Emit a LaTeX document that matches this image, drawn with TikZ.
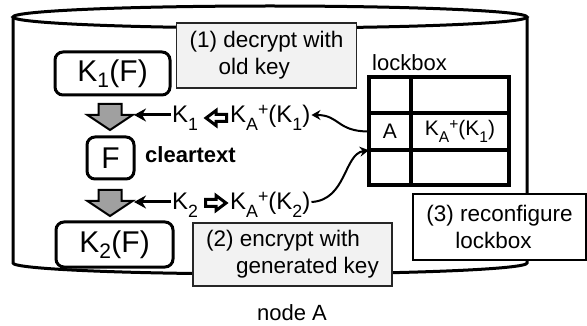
\documentclass[tikz,border=0pt]{standalone}
\usepackage{fontspec}
\usepackage{graphicx}
\setmainfont{Liberation Sans}
\usetikzlibrary{arrows.meta}
\definecolor{notegray}{RGB}{242,242,242}
\definecolor{flowgray}{RGB}{160,160,160}
% lowered / raised indices for the key names
\newcommand{\lowidx}[1]{\raisebox{-0.3em}{\scalebox{0.74}{#1}}}
\newcommand{\highidx}[1]{\raisebox{0.3em}{\scalebox{0.74}{#1}}}
\begin{document}
\begin{tikzpicture}[x=1pt,y=-1pt,
  cyl/.style={line width=3pt},
  keybox/.style={draw, line width=3pt, rounded corners=8pt, fill=white, inner sep=0pt,
    font=\fontsize{30}{34}\selectfont},
  stepnote/.style={draw=black!85, line width=1.3pt, fill=notegray, align=left, inner sep=0pt,
    font=\fontsize{22.5}{27}\selectfont},
  keytxt/.style={font=\fontsize{24}{28}\selectfont, inner sep=1pt, text height=17pt, text depth=1pt},
  label/.style={font=\fontsize{22}{26}\selectfont, inner sep=0pt},
  feed/.style={-{Stealth[length=12pt,width=13pt]}, line width=3pt},
  link/.style={-{Stealth[length=9pt,width=10pt,inset=3pt]}, line width=2pt},
  grid/.style={line width=3.5pt},
  cell/.style={inner sep=0pt, font=\fontsize{21}{25}\selectfont},
  % broad grey downward arrow of a processing step
  pics/flowarrow/.style={code={
    \draw[line width=2pt, fill=flowgray, line join=miter]
      (-11.5,0) -- (11.5,0) -- (11.5,11) -- (22.5,11) -- (0,26) -- (-22.5,11) -- (-11.5,11) -- cycle;
    \coordinate (-corner) at (24,11);
  }},
  % hollow block arrow between a key and its wrapped form
  pics/swaparrow/.style={code={
    \draw[line width=3pt, fill=white, line join=miter]
      (-10,-3.5) -- (0.5,-3.5) -- (0.5,-7.5) -- (10.5,0) -- (0.5,7.5) -- (0.5,3.5) -- (-10,3.5) -- cycle;
  }}
]
\useasboundingbox (0,0) rectangle (587,326);

% storage node drawn as a cylinder
\draw[cyl] (13,17) -- (13,263) arc[start angle=180, end angle=0, x radius=257, y radius=11] -- (527,17);
\draw[cyl] (270,17) ellipse [x radius=257, y radius=11];

% step notes
\node[stepnote, minimum width=180pt, minimum height=65pt] (n1) at (266.5,55.5)
  {(1) decrypt with\\\hspace*{29pt}old key};
\node[stepnote, minimum width=199pt, minimum height=63pt] (n2) at (292.5,254.5)
  {(2) encrypt with\\\hspace*{30pt}generated key};
\node[stepnote, draw=black, fill=white, minimum width=173pt, minimum height=66pt] (n3) at (499.5,227)
  {(3) reconfigure\\\hspace*{29pt}lockbox};

% file states
\node[keybox, minimum width=115pt, minimum height=43pt] (kf1) at (112.5,73.5) {K\textsubscript{1}(F)};
\node[keybox, minimum width=47pt, minimum height=42pt] (f) at (110.5,158) {F};
\node[keybox, minimum width=117pt, minimum height=45pt] (kf2) at (114.5,244.5) {K\textsubscript{2}(F)};
\node[label, font=\fontsize{22}{26}\selectfont\bfseries, anchor=base west] (clear) at (145,163) {cleartext};

% processing steps
\pic (g1) at (110,104) {flowarrow};
\pic (g2) at (110,190) {flowarrow};

% key rows
\node[keytxt, anchor=west] (k1) at (171,115) {K\lowidx{1}};
\pic (s1) [xscale=-1] at (216.5,118) {swaparrow};
\node[keytxt, anchor=west] (ka1) at (229,115) {K\lowidx{A}\highidx{+}(K\lowidx{1})};
\node[keytxt, anchor=west] (k2) at (171,202) {K\lowidx{2}};
\pic (s2) at (215.5,203) {swaparrow};
\node[keytxt, anchor=west] (ka2) at (229,202) {K\lowidx{A}\highidx{+}(K\lowidx{2})};

\draw[feed] (k1.west) -- (g1-corner |- k1.west);
\draw[feed] (k2.west) -- (g2-corner |- k2.west);

% lockbox table
\node[label, anchor=base west] (lbl) at (372,71) {lockbox};
\draw[grid] (369,77) rectangle (509,185);
\draw[grid] (369,113) -- (509,113);
\draw[grid] (369,150) -- (509,150);
\draw[grid] (411,77) -- (411,185);
\node[cell, minimum width=42pt, minimum height=37pt] (cA) at (390,131.5) {A};
\node[cell, minimum width=98pt, minimum height=37pt] (cK) at (460,131.5)
  {K\lowidx{A}\highidx{+}(K\lowidx{1})};

\draw[link] (cA.west) .. controls +(-32,0) and +(28,0) .. (ka1.east);
\draw[link] (ka2.east) .. controls +(35,-2) and +(-25,4) .. (cA.south west);

% caption
\node[label, anchor=base] (cap) at (292,320) {node A};
\end{tikzpicture}
\end{document}
